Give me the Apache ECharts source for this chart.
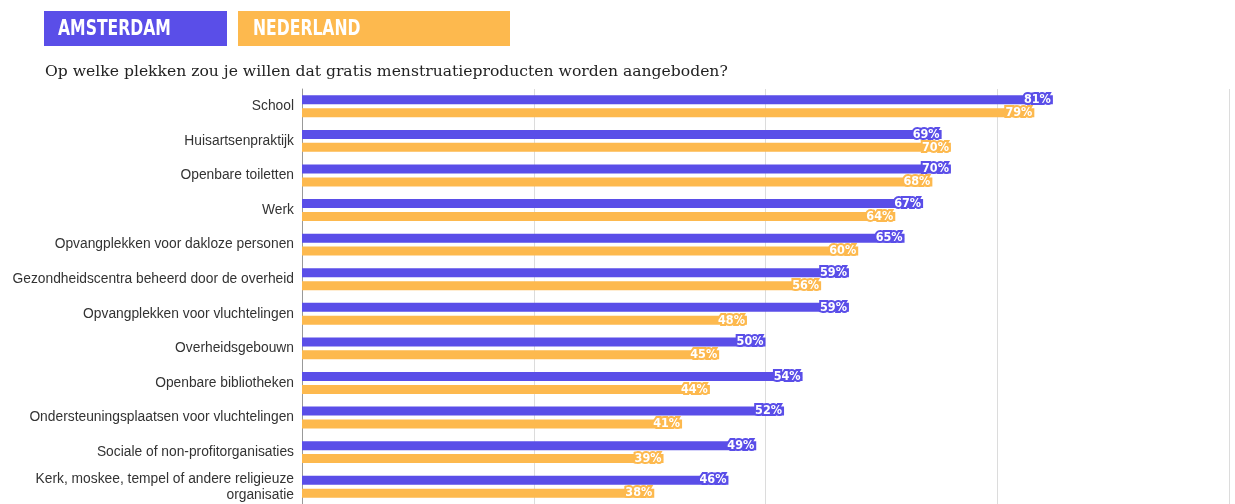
<!DOCTYPE html>
<html>
<head>
<meta charset="utf-8">
<script src="https://cdn.jsdelivr.net/npm/echarts@6/dist/echarts.min.js"></script>
<style>
html,body{margin:0;padding:0;background:#fff;overflow:hidden;}
#chart{width:1235px;height:504px;}
</style>
</head>
<body>
<div id="chart"></div>
<script>
const categories = [
  "School",
  "Huisartsenpraktijk",
  "Openbare toiletten",
  "Werk",
  "Opvangplekken voor dakloze personen",
  "Gezondheidscentra beheerd door de overheid",
  "Opvangplekken voor vluchtelingen",
  "Overheidsgebouwn",
  "Openbare bibliotheken",
  "Ondersteuningsplaatsen voor vluchtelingen",
  "Sociale of non-profitorganisaties",
  "Kerk, moskee, tempel of andere religieuze\norganisatie"
];
const seriesNames = ["AMSTERDAM", "NEDERLAND"];
const amsterdam = [81, 69, 70, 67, 65, 59, 59, 50, 54, 52, 49, 46];
const nederland = [79, 70, 68, 64, 60, 56, 48, 45, 44, 41, 39, 38];
const titleText = "Op welke plekken zou je willen dat gratis menstruatieproducten worden aangeboden?";

const BLUE = "#5a4ee8";
const ORANGE = "#fdb94e";

const chart = echarts.init(document.getElementById('chart'), null, {renderer: 'canvas'});

function labelFor(color) {
  return {
    show: true,
    position: 'insideRight',
    distance: 2,
    formatter: '{c}%',
    color: '#fff',
    fontFamily: '"DejaVu Sans Condensed", "DejaVu Sans", sans-serif',
    fontWeight: 'bold',
    fontSize: 12.5,
    textBorderColor: color,
    textBorderWidth: 4
  };
}

const legendFont = 'bold 22px "DejaVu Sans", sans-serif';

chart.setOption({
  animation: false,
  backgroundColor: '#fff',
  graphic: [
    {type: 'rect', shape: {x: 44, y: 11, width: 183, height: 35}, style: {fill: BLUE}},
    {type: 'text', x: 58, y: 29, scaleX: 0.71, style: {text: seriesNames[0], fill: '#fff', font: legendFont, textVerticalAlign: 'middle'}},
    {type: 'rect', shape: {x: 238, y: 11, width: 272, height: 35}, style: {fill: ORANGE}},
    {type: 'text', x: 253, y: 29, scaleX: 0.71, style: {text: seriesNames[1], fill: '#fff', font: legendFont, textVerticalAlign: 'middle'}},
    {type: 'text', x: 45, y: 72, style: {text: titleText, fill: '#222', font: '15.6px "DejaVu Serif", serif', textVerticalAlign: 'middle'}}
  ],
  grid: {left: 302, top: 89, width: 927, height: 419, containLabel: false},
  xAxis: {
    type: 'value', min: 0, max: 100, interval: 25,
    axisLine: {show: false}, axisTick: {show: false},
    axisLabel: {show: false},
    splitLine: {show: true, lineStyle: {color: '#dcdcdc', width: 1}}
  },
  yAxis: {
    type: 'category', data: categories, inverse: true,
    axisLine: {show: true, lineStyle: {color: '#999', width: 1}},
    axisTick: {show: false},
    axisLabel: {
      color: '#333', fontSize: 13.8, margin: 8, lineHeight: 16,
      fontFamily: '"Liberation Sans", Arial, sans-serif'
    }
  },
  series: [
    {
      name: seriesNames[0], type: 'bar', data: amsterdam,
      barWidth: 9, barGap: '44%',
      itemStyle: {color: BLUE},
      label: labelFor(BLUE)
    },
    {
      name: seriesNames[1], type: 'bar', data: nederland,
      barWidth: 9, barGap: '44%',
      itemStyle: {color: ORANGE},
      label: labelFor(ORANGE)
    }
  ]
});
</script>
</body>
</html>
